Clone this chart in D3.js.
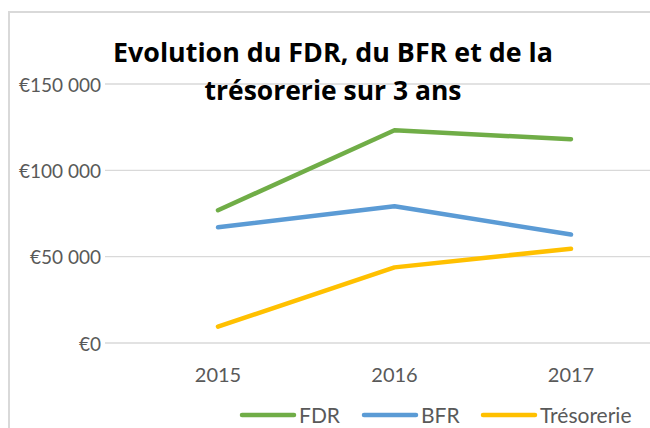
<!DOCTYPE html>
<html>
<head>
<meta charset="utf-8">
<script src="https://cdn.jsdelivr.net/npm/d3@7"></script>
<style>
  body { margin: 0; background: #fff; }
  svg { display: block; }
</style>
</head>
<body>
<svg id="chart"></svg>
<script>
/* data */
var years = ["2015", "2016", "2017"];
var fdr = [76900, 123200, 118000];
var bfr = [67000, 79200, 62800];
var treso = [9500, 43800, 54600];
var seriesNames = ["FDR", "BFR", "Trésorerie"];
var seriesColors = ["#70ad47", "#5b9bd5", "#ffc000"];
var yTicks = [0, 50000, 100000, 150000];
var titleLines = ["Evolution du FDR, du BFR et de la", "trésorerie sur 3 ans"];

var W = 650, H = 428;
var svg = d3.select('#chart').attr('width', W).attr('height', H);
var font = "Lato, 'Open Sans', sans-serif";

/* outer chart border (cropped at right/bottom) */
svg.append('path')
    .attr('d', `M9,${H} V12 H${W}`)
    .attr('fill', 'none')
    .attr('stroke', '#d9d9d9')
    .attr('stroke-width', 2);

var x = d3.scalePoint().domain(years).range([218, 571]);
var y = d3.scaleLinear().domain([0, 150000]).range([343, 84]);

/* gridlines */
svg.append('g').selectAll('line')
    .data(yTicks)
    .enter()
    .append('line')
    .attr('x1', 105).attr('x2', W)
    .attr('y1', d => y(d)).attr('y2', d => y(d))
    .attr('stroke', '#d9d9d9')
    .attr('stroke-width', 1.3);

/* y axis labels */
var fmt = d => "€" + d3.format(",")(d).replace(/,/g, " ");
svg.append('g').selectAll('text')
    .data(yTicks)
    .enter()
    .append('text')
    .attr('x', 101)
    .attr('y', d => y(d) + 7.5)
    .attr('text-anchor', 'end')
    .attr('font-family', font)
    .attr('font-size', '19px')
    .attr('fill', '#595959')
    .text(fmt);

/* x axis labels */
svg.append('g').selectAll('text')
    .data(years)
    .enter()
    .append('text')
    .attr('x', d => x(d))
    .attr('y', 381.5)
    .attr('text-anchor', 'middle')
    .attr('font-family', font)
    .attr('font-size', '20px')
    .attr('fill', '#595959')
    .text(d => d);

/* lines */
var allSeries = [fdr, bfr, treso];
var line = d3.line().x((d, i) => x(years[i])).y(d => y(d));
svg.append('g').selectAll('path')
    .data(allSeries)
    .enter()
    .append('path')
    .attr('d', d => line(d))
    .attr('fill', 'none')
    .attr('stroke', (d, i) => seriesColors[i])
    .attr('stroke-width', 4.5)
    .attr('stroke-linecap', 'round')
    .attr('stroke-linejoin', 'round');

/* title */
var titleW = [440, 257];
var titleY = [62, 100];
var titleX = [333, 333];
titleLines.forEach(function(t, i){
    var el = svg.append('text')
        .attr('x', titleX[i])
        .attr('y', titleY[i])
        .attr('text-anchor', 'middle')
        .attr('font-family', "'Open Sans', sans-serif")
        .attr('font-weight', 'bold')
        .attr('font-size', '22px')
        .attr('fill', '#000')
        .text(t);
    var w = el.node().getComputedTextLength();
    el.attr('font-size', (22 * titleW[i] / w).toFixed(2) + 'px');
});

/* legend */
var legX = [240, 362, 481];
var leg = svg.append('g').selectAll('g')
    .data(seriesNames)
    .enter()
    .append('g')
    .attr('transform', (d, i) => `translate(${legX[i]},415)`);
leg.append('line')
    .attr('x1', 2).attr('x2', 54)
    .attr('y1', 0).attr('y2', 0)
    .attr('stroke', (d, i) => seriesColors[i])
    .attr('stroke-width', 4.5)
    .attr('stroke-linecap', 'round');
leg.append('text')
    .attr('x', 59)
    .attr('y', 7.5)
    .attr('font-family', font)
    .attr('font-size', '21px')
    .attr('fill', '#595959')
    .text(d => d);
</script>
</body>
</html>
